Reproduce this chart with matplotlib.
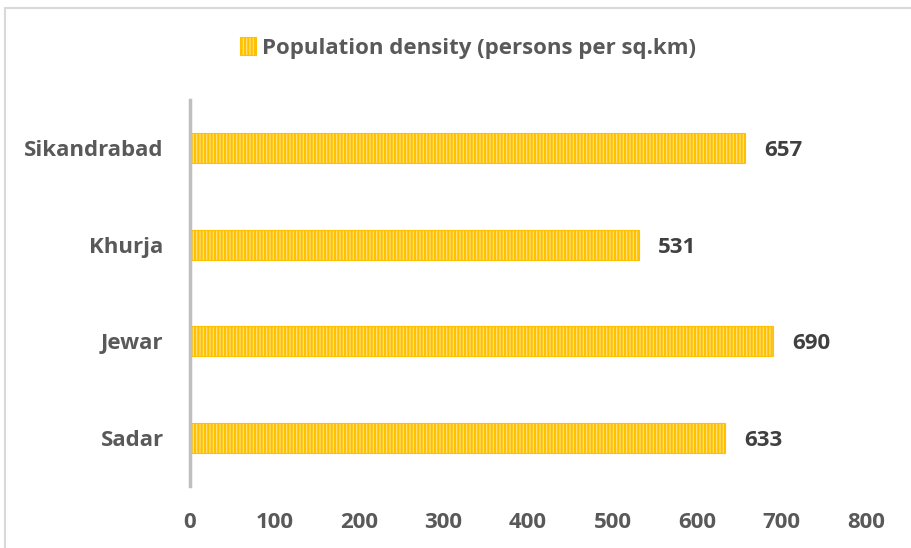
import matplotlib
matplotlib.use("Agg")
import matplotlib.pyplot as plt
from matplotlib.patches import Rectangle

tehsils = ["Sadar", "Jewar", "Khurja", "Sikandrabad"]
density = [633, 690, 531, 657]
x_ticks = [0, 100, 200, 300, 400, 500, 600, 700, 800]
series_name = "Population density (persons per sq.km)"

plt.rcParams["font.family"] = ["Open Sans", "DejaVu Sans"]
plt.rcParams["hatch.linewidth"] = 1.5
plt.rcParams["hatch.color"] = "#FFC000"

gold = "#FFC000"
face = "#FFE07A"
label_grey = "#595959"
value_grey = "#404040"

fig = plt.figure(figsize=(9.12, 5.48), dpi=100)

# light chart frame
fig.patches.append(Rectangle((5 / 912, -0.1), 1.2, (540 / 548) + 0.1,
                             transform=fig.transFigure, fill=False,
                             edgecolor="#D9D9D9", linewidth=1.5))

ax = fig.add_axes([190 / 912, 62 / 548, 676 / 912, 386 / 548])
ypos = list(range(len(tehsils)))
bars = ax.barh(ypos, density, height=0.31, color=face, edgecolor=gold,
               hatch="|||||", linewidth=0.8, label=series_name)

for y, v in zip(ypos, density):
    ax.annotate(f"{v}", xy=(v, y), xytext=(14, 0), textcoords="offset points",
                va="center_baseline", ha="left", fontsize=16,
                fontweight="bold", color=value_grey)

ax.set_xlim(0, 800)
ax.set_ylim(-0.5, len(tehsils) - 0.5)
ax.set_xticks(x_ticks)
ax.set_xticklabels([str(t) for t in x_ticks])
ax.set_yticks(ypos)
ax.set_yticklabels(tehsils)
ax.tick_params(axis="both", length=0, labelsize=16, labelcolor=label_grey)
ax.tick_params(axis="x", pad=19)
ax.tick_params(axis="y", pad=19)
for lbl in ax.get_xticklabels() + ax.get_yticklabels():
    lbl.set_fontweight("bold")
for lbl in ax.get_yticklabels():
    lbl.set_verticalalignment("center_baseline")

for side in ["top", "right", "bottom"]:
    ax.spines[side].set_visible(False)
ax.spines["left"].set_color("#BFBFBF")
ax.spines["left"].set_linewidth(2.5)

leg = fig.legend(handles=[bars], labels=[series_name], loc="center",
                 bbox_to_anchor=(468 / 912, 1 - 48 / 548), frameon=False,
                 fontsize=16, handlelength=0.7, handleheight=0.9,
                 handletextpad=0.25)
for t in leg.get_texts():
    t.set_color(label_grey)
    t.set_fontweight("bold")

fig.savefig("out.png", dpi=100)
